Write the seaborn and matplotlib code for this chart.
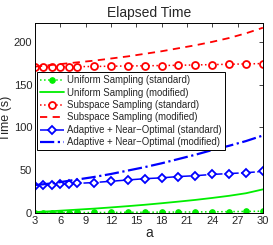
import matplotlib
matplotlib.use("Agg")
import matplotlib.pyplot as plt
import seaborn as sns

a_vals = [3, 4, 5, 6, 7, 8, 10, 12, 14, 16, 18, 20, 22, 24, 26, 28, 30]

uniform_std = [0.3, 0.3, 0.4, 0.4, 0.4, 0.5, 0.5, 0.6, 0.7, 0.8, 0.9, 1.0, 1.1, 1.3, 1.5, 1.7, 2.0]
uniform_mod = [1.0, 1.5, 2.0, 2.6, 3.2, 3.8, 5.0, 6.4, 7.9, 9.5, 11.3, 13.2, 15.2, 17.5, 20.0, 23.0, 27.5]
subspace_std = [170.5, 170.6, 170.7, 170.8, 170.9, 171.0, 171.2, 171.5, 171.8, 172.0, 172.3, 172.6, 173.0, 173.4, 173.8, 174.2, 174.6]
subspace_mod = [171, 172, 173, 174, 175, 176, 178, 180.5, 183, 186, 189, 192.5, 196, 200, 204.5, 210, 216.5]
adaptive_std = [32, 32.5, 33, 33.5, 34, 34.5, 35.5, 37, 38.5, 40, 41, 42.5, 43.5, 45, 46, 47, 48.5]
adaptive_mod = [32.5, 33.5, 34.5, 36, 37.5, 39, 42, 45.5, 49.5, 53.5, 58, 63, 68, 73.5, 78.5, 84, 90.5]

sns.set_style("white")
plt.rcParams['font.family'] = ['Liberation Sans', 'DejaVu Sans']

fig = plt.figure(figsize=(2.73, 2.45), dpi=100)
ax = fig.add_axes([0.128, 0.131, 0.835, 0.775])

green = "#00ee00"
sns.lineplot(x=a_vals, y=uniform_std, ax=ax, color=green, linestyle=":", marker="o",
             markersize=4, markerfacecolor=green, markeredgecolor=green, lw=1.1,
             label="Uniform Sampling (standard)")
sns.lineplot(x=a_vals, y=uniform_mod, ax=ax, color=green, linestyle="-", lw=1.3,
             label="Uniform Sampling (modified)")
sns.lineplot(x=a_vals, y=subspace_std, ax=ax, color="red", linestyle=":", marker="o",
             markersize=5, markerfacecolor="white", markeredgecolor="red", markeredgewidth=1.3,
             lw=1.1, label="Subspace Sampling (standard)")
sns.lineplot(x=a_vals, y=subspace_mod, ax=ax, color="red", linestyle=(0, (4, 3)), lw=1.3,
             label="Subspace Sampling (modified)")
sns.lineplot(x=a_vals, y=adaptive_std, ax=ax, color="blue", linestyle="-.", marker="D",
             markersize=4, markerfacecolor="white", markeredgecolor="blue", markeredgewidth=1.3,
             lw=1.1, label="Adaptive + Near\u2212Optimal (standard)")
sns.lineplot(x=a_vals, y=adaptive_mod, ax=ax, color="blue", linestyle="-.", lw=1.6,
             label="Adaptive + Near\u2212Optimal (modified)")

ax.set_xlim(3, 30)
ax.set_ylim(0, 222)
ax.set_xticks(range(3, 31, 3))
ax.set_yticks([0, 50, 100, 150, 200])
ax.tick_params(direction="in", top=True, right=True, length=3, labelsize=8, pad=2, width=0.6)
for s in ax.spines.values():
    s.set_color("black")
    s.set_linewidth(0.7)
ax.set_title("Elapsed Time", fontsize=10, pad=4)
ax.set_xlabel("a", fontsize=10, labelpad=0)
ax.set_ylabel("Time (s)", fontsize=9, labelpad=1)

leg = ax.legend(loc="upper left", bbox_to_anchor=(0.008, 0.74), fontsize=6.9, frameon=True,
                fancybox=False, edgecolor="black", framealpha=1, handlelength=2.5,
                borderpad=0.3, labelspacing=0.25, handletextpad=0.4, borderaxespad=0)
leg.get_frame().set_linewidth(0.7)

fig.savefig("out.png", dpi=100)
